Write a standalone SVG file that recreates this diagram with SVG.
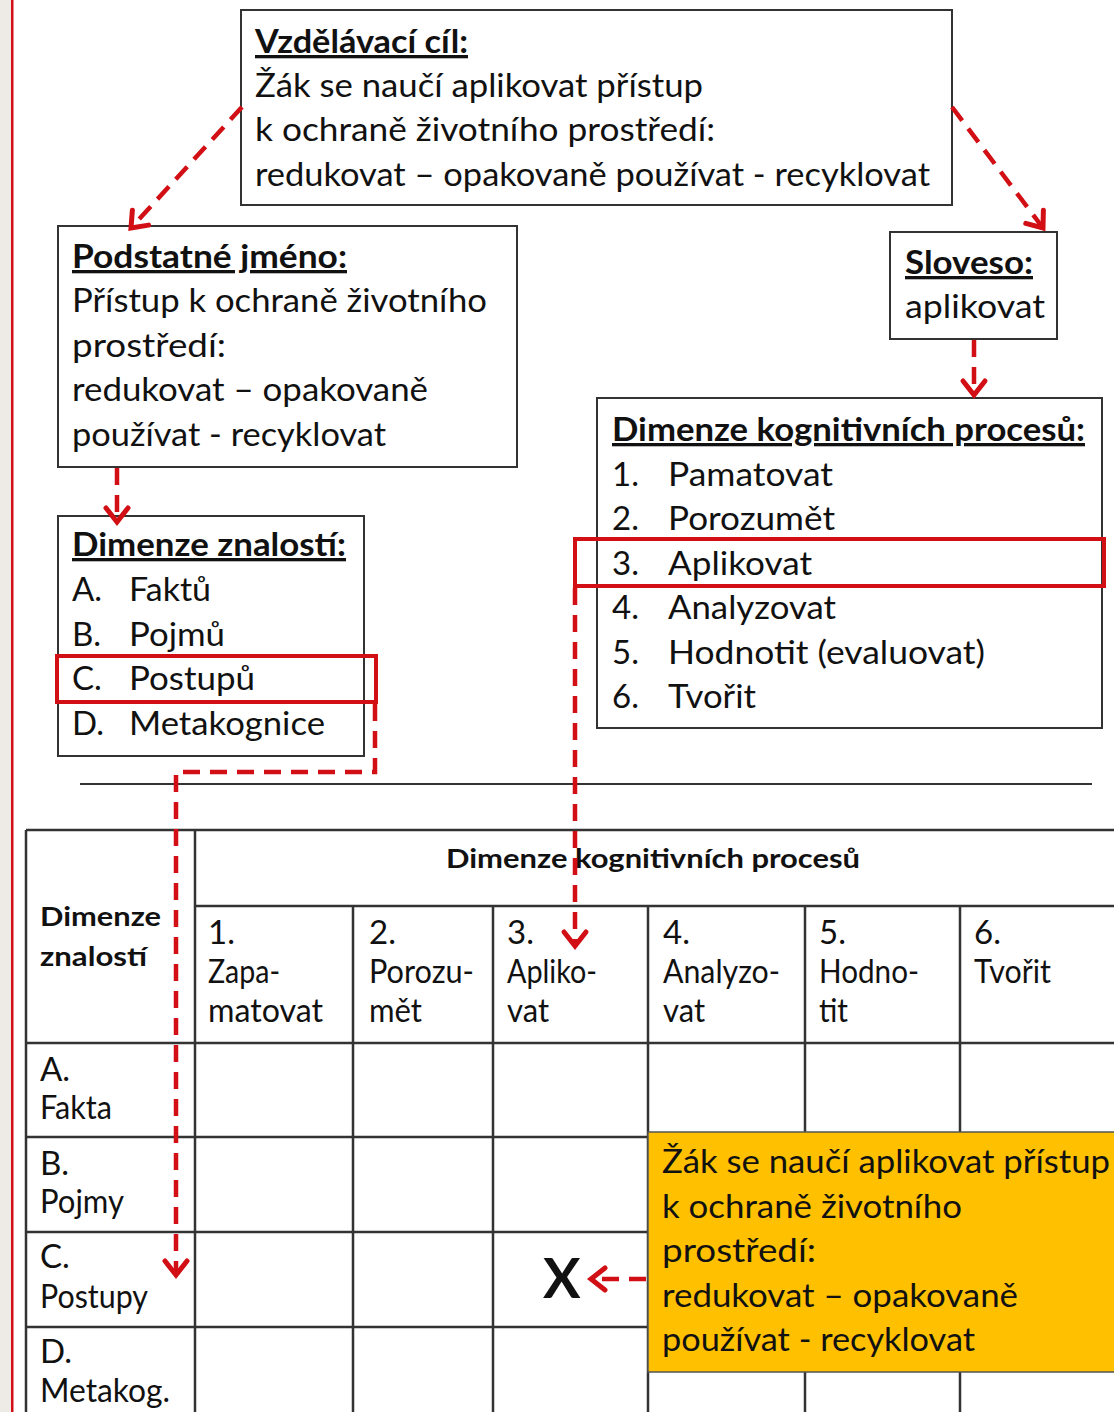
<svg xmlns="http://www.w3.org/2000/svg" width="1114" height="1412" viewBox="0 0 1114 1412">
<style>
.t{font-family:Lato,"Open Sans","Liberation Sans",sans-serif;font-size:33px;fill:#111}
.b{font-weight:bold}
.u{text-decoration:underline}
.th{font-size:27px;font-weight:bold}
.x{font-size:56px;font-weight:bold}
.box{fill:#fff;stroke:#333;stroke-width:2}
.hl{fill:none;stroke:#D10F14;stroke-width:4}
.con{fill:none;stroke:#D10F14;stroke-width:4.5;stroke-dasharray:17 10}
.grid{stroke:#333;stroke-width:2.5}
</style>
<defs>
<marker id="ah" markerUnits="userSpaceOnUse" markerWidth="30" markerHeight="30" viewBox="-20 -15 30 30" refX="0" refY="0" orient="auto" overflow="visible">
<path d="M-14,-11 L0,0 L-14,11" fill="none" stroke="#D10F14" stroke-width="5" stroke-linecap="round" stroke-linejoin="miter"/>
</marker>
</defs>
<rect x="0" y="0" width="1114" height="1412" fill="#fff"/>
<rect x="0" y="0" width="11" height="1412" fill="#EEEBE6"/>
<rect x="11" y="0" width="2.5" height="1412" fill="#D10F14"/>

<g id="goal">
<rect class="box" x="241" y="10" width="711" height="195"/>
<text class="t b u" x="255" y="53" textLength="213" lengthAdjust="spacingAndGlyphs">Vzdělávací cíl:</text>
<text class="t" x="255" y="97" textLength="448" lengthAdjust="spacingAndGlyphs">Žák se naučí aplikovat přístup</text>
<text class="t" x="255" y="141" textLength="460" lengthAdjust="spacingAndGlyphs">k ochraně životního prostředí:</text>
<text class="t" x="255" y="186" textLength="675" lengthAdjust="spacingAndGlyphs">redukovat – opakovaně používat - recyklovat</text>
</g>

<g id="noun">
<rect class="box" x="58" y="226" width="459" height="241"/>
<text class="t b u" x="72" y="268" textLength="275" lengthAdjust="spacingAndGlyphs">Podstatné jméno:</text>
<text class="t" x="72" y="312" textLength="415" lengthAdjust="spacingAndGlyphs">Přístup k ochraně životního</text>
<text class="t" x="72" y="357" textLength="154" lengthAdjust="spacingAndGlyphs">prostředí:</text>
<text class="t" x="72" y="401" textLength="356" lengthAdjust="spacingAndGlyphs">redukovat – opakovaně</text>
<text class="t" x="72" y="446" textLength="314" lengthAdjust="spacingAndGlyphs">používat - recyklovat</text>
</g>

<g id="verb">
<rect class="box" x="890" y="232" width="167" height="107"/>
<text class="t b u" x="905" y="274" textLength="128" lengthAdjust="spacingAndGlyphs">Sloveso:</text>
<text class="t" x="905" y="318" textLength="140" lengthAdjust="spacingAndGlyphs">aplikovat</text>
</g>

<g id="cognitive">
<rect class="box" x="597" y="398" width="505" height="330"/>
<text class="t b u" x="612" y="441" textLength="473" lengthAdjust="spacingAndGlyphs">Dimenze kognitivních procesů:</text>
<text class="t" x="612" y="486">1.</text><text class="t" x="668" y="486" textLength="165" lengthAdjust="spacingAndGlyphs">Pamatovat</text>
<text class="t" x="612" y="530">2.</text><text class="t" x="668" y="530" textLength="167" lengthAdjust="spacingAndGlyphs">Porozumět</text>
<text class="t" x="612" y="575">3.</text><text class="t" x="668" y="575" textLength="144" lengthAdjust="spacingAndGlyphs">Aplikovat</text>
<text class="t" x="612" y="619">4.</text><text class="t" x="668" y="619" textLength="168" lengthAdjust="spacingAndGlyphs">Analyzovat</text>
<text class="t" x="612" y="664">5.</text><text class="t" x="668" y="664" textLength="317" lengthAdjust="spacingAndGlyphs">Hodnotit (evaluovat)</text>
<text class="t" x="612" y="708">6.</text><text class="t" x="668" y="708" textLength="88" lengthAdjust="spacingAndGlyphs">Tvořit</text>
<rect class="hl" x="575" y="539" width="529" height="47"/>
</g>

<g id="knowledge">
<rect class="box" x="58" y="516" width="306" height="240"/>
<text class="t b u" x="72" y="556" textLength="274" lengthAdjust="spacingAndGlyphs">Dimenze znalostí:</text>
<text class="t" x="72" y="601">A.</text><text class="t" x="129" y="601" textLength="82" lengthAdjust="spacingAndGlyphs">Faktů</text>
<text class="t" x="72" y="646">B.</text><text class="t" x="129" y="646" textLength="96" lengthAdjust="spacingAndGlyphs">Pojmů</text>
<text class="t" x="72" y="690">C.</text><text class="t" x="129" y="690" textLength="126" lengthAdjust="spacingAndGlyphs">Postupů</text>
<text class="t" x="72" y="735">D.</text><text class="t" x="129" y="735" textLength="196" lengthAdjust="spacingAndGlyphs">Metakognice</text>
<rect class="hl" x="57" y="656" width="319" height="46"/>
</g>

<line x1="80" y1="784" x2="1092" y2="784" stroke="#333" stroke-width="2"/>

<g id="table">
<g class="grid">
<line x1="26" y1="830" x2="1114" y2="830"/>
<line x1="195" y1="906" x2="1114" y2="906"/>
<line x1="26" y1="1043" x2="1114" y2="1043"/>
<line x1="26" y1="1137" x2="1114" y2="1137"/>
<line x1="26" y1="1232" x2="1114" y2="1232"/>
<line x1="26" y1="1327" x2="1114" y2="1327"/>
<line x1="26" y1="830" x2="26" y2="1412"/>
<line x1="195" y1="830" x2="195" y2="1412"/>
<line x1="353" y1="906" x2="353" y2="1412"/>
<line x1="493" y1="906" x2="493" y2="1412"/>
<line x1="648" y1="906" x2="648" y2="1412"/>
<line x1="805" y1="906" x2="805" y2="1412"/>
<line x1="960" y1="906" x2="960" y2="1412"/>
</g>
<text class="t th" x="446" y="868" textLength="414" lengthAdjust="spacingAndGlyphs">Dimenze kognitivních procesů</text>
<text class="t th" x="40" y="926" textLength="121" lengthAdjust="spacingAndGlyphs">Dimenze</text>
<text class="t th" x="40" y="966" textLength="107" lengthAdjust="spacingAndGlyphs">znalostí</text>
<text class="t" x="208" y="944">1.</text>
<text class="t" x="208" y="983" textLength="72" lengthAdjust="spacingAndGlyphs">Zapa-</text>
<text class="t" x="208" y="1022" textLength="115" lengthAdjust="spacingAndGlyphs">matovat</text>
<text class="t" x="369" y="944">2.</text>
<text class="t" x="369" y="983" textLength="105" lengthAdjust="spacingAndGlyphs">Porozu-</text>
<text class="t" x="369" y="1022" textLength="53" lengthAdjust="spacingAndGlyphs">mět</text>
<text class="t" x="507" y="944">3.</text>
<text class="t" x="507" y="983" textLength="90" lengthAdjust="spacingAndGlyphs">Apliko-</text>
<text class="t" x="507" y="1022" textLength="42" lengthAdjust="spacingAndGlyphs">vat</text>
<text class="t" x="663" y="944">4.</text>
<text class="t" x="663" y="983" textLength="117" lengthAdjust="spacingAndGlyphs">Analyzo-</text>
<text class="t" x="663" y="1022" textLength="42" lengthAdjust="spacingAndGlyphs">vat</text>
<text class="t" x="819" y="944">5.</text>
<text class="t" x="819" y="983" textLength="100" lengthAdjust="spacingAndGlyphs">Hodno-</text>
<text class="t" x="819" y="1022" textLength="29" lengthAdjust="spacingAndGlyphs">tit</text>
<text class="t" x="974" y="944">6.</text>
<text class="t" x="974" y="983" textLength="77" lengthAdjust="spacingAndGlyphs">Tvořit</text>
<text class="t" x="40" y="1081">A.</text>
<text class="t" x="40" y="1119" textLength="72" lengthAdjust="spacingAndGlyphs">Fakta</text>
<text class="t" x="40" y="1175">B.</text>
<text class="t" x="40" y="1213" textLength="84" lengthAdjust="spacingAndGlyphs">Pojmy</text>
<text class="t" x="40" y="1268">C.</text>
<text class="t" x="40" y="1308" textLength="108" lengthAdjust="spacingAndGlyphs">Postupy</text>
<text class="t" x="40" y="1363">D.</text>
<text class="t" x="40" y="1402" textLength="130" lengthAdjust="spacingAndGlyphs">Metakog.</text>
<text class="t x" x="543" y="1298">X</text>
</g>

<g id="result">
<rect x="648" y="1132" width="470" height="240" fill="#FFC000" stroke="#555" stroke-width="1.5"/>
<text class="t" x="662" y="1173" textLength="448" lengthAdjust="spacingAndGlyphs">Žák se naučí aplikovat přístup</text>
<text class="t" x="662" y="1218" textLength="300" lengthAdjust="spacingAndGlyphs">k ochraně životního</text>
<text class="t" x="662" y="1262" textLength="154" lengthAdjust="spacingAndGlyphs">prostředí:</text>
<text class="t" x="662" y="1307" textLength="356" lengthAdjust="spacingAndGlyphs">redukovat – opakovaně</text>
<text class="t" x="662" y="1351" textLength="313" lengthAdjust="spacingAndGlyphs">používat - recyklovat</text>
</g>

<g id="connectors">
<path class="con" d="M242,107 L131,228" marker-end="url(#ah)"/>
<path class="con" d="M952,107 L1043,228" marker-end="url(#ah)"/>
<path class="con" d="M974,340 L974,395" marker-end="url(#ah)"/>
<path class="con" d="M117,468 L117,522" marker-end="url(#ah)"/>
<path class="con" d="M375,704 L375,772 L176,772 L176,1275" marker-end="url(#ah)"/>
<path class="con" d="M575,588 L575,946" marker-end="url(#ah)"/>
<path class="con" d="M646,1279 L591,1279" stroke-dasharray="18 12" marker-end="url(#ah)"/>
</g>
</svg>
